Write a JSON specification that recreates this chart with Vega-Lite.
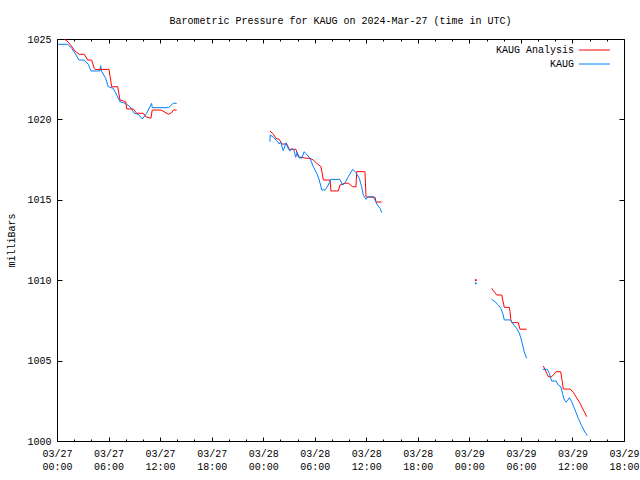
{
  "$schema": "https://vega.github.io/schema/vega-lite/v6.json",
  "width": 567,
  "height": 402,
  "autosize": "none",
  "padding": {"left": 57, "top": 39, "right": 16, "bottom": 39},
  "background": "white",
  "title": {"text": "Barometric Pressure for KAUG on 2024-Mar-27 (time in UTC)", "font": "Liberation Mono", "fontSize": 10, "fontWeight": "normal", "color": "black", "anchor": "middle", "offset": 8},
  "config": {
    "view": {"stroke": "black", "strokeWidth": 1},
    "font": "Liberation Mono",
    "axis": {"labelFont": "Liberation Mono", "labelFontSize": 10, "labelColor": "black", "tickColor": "black", "domainColor": "black", "grid": false, "titleFont": "Liberation Mono", "titleFontSize": 10, "titleFontWeight": "normal", "titleColor": "black"}
  },
  "data": {"values": [
    {"t": "2024-03-27T00:05Z", "mb": 1024.67, "series": "KAUG", "seg": "a"},
    {"t": "2024-03-27T01:15Z", "mb": 1024.67, "series": "KAUG", "seg": "a"},
    {"t": "2024-03-27T01:43Z", "mb": 1024.42, "series": "KAUG", "seg": "a"},
    {"t": "2024-03-27T02:06Z", "mb": 1024.11, "series": "KAUG", "seg": "a"},
    {"t": "2024-03-27T02:34Z", "mb": 1023.69, "series": "KAUG", "seg": "a"},
    {"t": "2024-03-27T03:11Z", "mb": 1023.69, "series": "KAUG", "seg": "a"},
    {"t": "2024-03-27T03:38Z", "mb": 1023.43, "series": "KAUG", "seg": "a"},
    {"t": "2024-03-27T03:58Z", "mb": 1023.01, "series": "KAUG", "seg": "a"},
    {"t": "2024-03-27T05:00Z", "mb": 1023.01, "series": "KAUG", "seg": "a"},
    {"t": "2024-03-27T05:05Z", "mb": 1023.34, "series": "KAUG", "seg": "a"},
    {"t": "2024-03-27T05:10Z", "mb": 1023.01, "series": "KAUG", "seg": "a"},
    {"t": "2024-03-27T05:40Z", "mb": 1022.56, "series": "KAUG", "seg": "a"},
    {"t": "2024-03-27T05:58Z", "mb": 1022.03, "series": "KAUG", "seg": "a"},
    {"t": "2024-03-27T06:33Z", "mb": 1021.93, "series": "KAUG", "seg": "a"},
    {"t": "2024-03-27T06:57Z", "mb": 1021.52, "series": "KAUG", "seg": "a"},
    {"t": "2024-03-27T07:20Z", "mb": 1021.10, "series": "KAUG", "seg": "a"},
    {"t": "2024-03-27T07:55Z", "mb": 1021.00, "series": "KAUG", "seg": "a"},
    {"t": "2024-03-27T08:30Z", "mb": 1020.79, "series": "KAUG", "seg": "a"},
    {"t": "2024-03-27T09:00Z", "mb": 1020.38, "series": "KAUG", "seg": "a"},
    {"t": "2024-03-27T09:28Z", "mb": 1020.32, "series": "KAUG", "seg": "a"},
    {"t": "2024-03-27T09:56Z", "mb": 1020.02, "series": "KAUG", "seg": "a"},
    {"t": "2024-03-27T10:26Z", "mb": 1020.38, "series": "KAUG", "seg": "a"},
    {"t": "2024-03-27T11:01Z", "mb": 1021.00, "series": "KAUG", "seg": "a"},
    {"t": "2024-03-27T11:05Z", "mb": 1020.73, "series": "KAUG", "seg": "a"},
    {"t": "2024-03-27T12:58Z", "mb": 1020.73, "series": "KAUG", "seg": "a"},
    {"t": "2024-03-27T13:32Z", "mb": 1021.00, "series": "KAUG", "seg": "a"},
    {"t": "2024-03-27T13:56Z", "mb": 1021.00, "series": "KAUG", "seg": "a"},

    {"t": "2024-03-27T00:50Z", "mb": 1025.00, "series": "KAUG Analysis", "seg": "a"},
    {"t": "2024-03-27T01:08Z", "mb": 1024.90, "series": "KAUG Analysis", "seg": "a"},
    {"t": "2024-03-27T01:31Z", "mb": 1024.67, "series": "KAUG Analysis", "seg": "a"},
    {"t": "2024-03-27T02:06Z", "mb": 1024.25, "series": "KAUG Analysis", "seg": "a"},
    {"t": "2024-03-27T02:34Z", "mb": 1024.05, "series": "KAUG Analysis", "seg": "a"},
    {"t": "2024-03-27T03:11Z", "mb": 1024.05, "series": "KAUG Analysis", "seg": "a"},
    {"t": "2024-03-27T03:34Z", "mb": 1023.69, "series": "KAUG Analysis", "seg": "a"},
    {"t": "2024-03-27T04:02Z", "mb": 1023.69, "series": "KAUG Analysis", "seg": "a"},
    {"t": "2024-03-27T04:20Z", "mb": 1023.18, "series": "KAUG Analysis", "seg": "a"},
    {"t": "2024-03-27T04:25Z", "mb": 1023.11, "series": "KAUG Analysis", "seg": "a"},
    {"t": "2024-03-27T06:03Z", "mb": 1023.11, "series": "KAUG Analysis", "seg": "a"},
    {"t": "2024-03-27T06:22Z", "mb": 1022.03, "series": "KAUG Analysis", "seg": "a"},
    {"t": "2024-03-27T07:04Z", "mb": 1022.03, "series": "KAUG Analysis", "seg": "a"},
    {"t": "2024-03-27T07:20Z", "mb": 1021.21, "series": "KAUG Analysis", "seg": "a"},
    {"t": "2024-03-27T08:00Z", "mb": 1021.10, "series": "KAUG Analysis", "seg": "a"},
    {"t": "2024-03-27T08:07Z", "mb": 1020.65, "series": "KAUG Analysis", "seg": "a"},
    {"t": "2024-03-27T08:53Z", "mb": 1020.65, "series": "KAUG Analysis", "seg": "a"},
    {"t": "2024-03-27T09:17Z", "mb": 1020.38, "series": "KAUG Analysis", "seg": "a"},
    {"t": "2024-03-27T10:03Z", "mb": 1020.38, "series": "KAUG Analysis", "seg": "a"},
    {"t": "2024-03-27T10:19Z", "mb": 1020.17, "series": "KAUG Analysis", "seg": "a"},
    {"t": "2024-03-27T10:56Z", "mb": 1020.07, "series": "KAUG Analysis", "seg": "a"},
    {"t": "2024-03-27T11:05Z", "mb": 1020.58, "series": "KAUG Analysis", "seg": "a"},
    {"t": "2024-03-27T12:07Z", "mb": 1020.58, "series": "KAUG Analysis", "seg": "a"},
    {"t": "2024-03-27T12:58Z", "mb": 1020.32, "series": "KAUG Analysis", "seg": "a"},
    {"t": "2024-03-27T13:21Z", "mb": 1020.42, "series": "KAUG Analysis", "seg": "a"},
    {"t": "2024-03-27T13:32Z", "mb": 1020.58, "series": "KAUG Analysis", "seg": "a"},
    {"t": "2024-03-27T13:56Z", "mb": 1020.58, "series": "KAUG Analysis", "seg": "a"},

    {"t": "2024-03-28T00:47Z", "mb": 1019.28, "series": "KAUG Analysis", "seg": "b"},
    {"t": "2024-03-28T01:11Z", "mb": 1019.09, "series": "KAUG Analysis", "seg": "b"},
    {"t": "2024-03-28T01:29Z", "mb": 1018.82, "series": "KAUG Analysis", "seg": "b"},
    {"t": "2024-03-28T01:53Z", "mb": 1018.76, "series": "KAUG Analysis", "seg": "b"},
    {"t": "2024-03-28T02:09Z", "mb": 1018.47, "series": "KAUG Analysis", "seg": "b"},
    {"t": "2024-03-28T02:44Z", "mb": 1018.47, "series": "KAUG Analysis", "seg": "b"},
    {"t": "2024-03-28T03:02Z", "mb": 1018.14, "series": "KAUG Analysis", "seg": "b"},
    {"t": "2024-03-28T03:49Z", "mb": 1018.14, "series": "KAUG Analysis", "seg": "b"},
    {"t": "2024-03-28T04:05Z", "mb": 1017.68, "series": "KAUG Analysis", "seg": "b"},
    {"t": "2024-03-28T05:04Z", "mb": 1017.58, "series": "KAUG Analysis", "seg": "b"},
    {"t": "2024-03-28T05:27Z", "mb": 1017.58, "series": "KAUG Analysis", "seg": "b"},
    {"t": "2024-03-28T05:50Z", "mb": 1017.48, "series": "KAUG Analysis", "seg": "b"},
    {"t": "2024-03-28T06:18Z", "mb": 1017.23, "series": "KAUG Analysis", "seg": "b"},
    {"t": "2024-03-28T06:44Z", "mb": 1017.06, "series": "KAUG Analysis", "seg": "b"},
    {"t": "2024-03-28T07:00Z", "mb": 1016.23, "series": "KAUG Analysis", "seg": "b"},
    {"t": "2024-03-28T07:47Z", "mb": 1016.23, "series": "KAUG Analysis", "seg": "b"},
    {"t": "2024-03-28T07:53Z", "mb": 1015.55, "series": "KAUG Analysis", "seg": "b"},
    {"t": "2024-03-28T08:45Z", "mb": 1015.55, "series": "KAUG Analysis", "seg": "b"},
    {"t": "2024-03-28T08:56Z", "mb": 1015.92, "series": "KAUG Analysis", "seg": "b"},
    {"t": "2024-03-28T09:31Z", "mb": 1016.03, "series": "KAUG Analysis", "seg": "b"},
    {"t": "2024-03-28T09:55Z", "mb": 1016.03, "series": "KAUG Analysis", "seg": "b"},
    {"t": "2024-03-28T10:25Z", "mb": 1015.81, "series": "KAUG Analysis", "seg": "b"},
    {"t": "2024-03-28T10:48Z", "mb": 1015.81, "series": "KAUG Analysis", "seg": "b"},
    {"t": "2024-03-28T10:53Z", "mb": 1016.75, "series": "KAUG Analysis", "seg": "b"},
    {"t": "2024-03-28T11:51Z", "mb": 1016.75, "series": "KAUG Analysis", "seg": "b"},
    {"t": "2024-03-28T11:58Z", "mb": 1015.19, "series": "KAUG Analysis", "seg": "b"},
    {"t": "2024-03-28T12:26Z", "mb": 1015.16, "series": "KAUG Analysis", "seg": "b"},
    {"t": "2024-03-28T13:01Z", "mb": 1015.16, "series": "KAUG Analysis", "seg": "b"},
    {"t": "2024-03-28T13:08Z", "mb": 1014.86, "series": "KAUG Analysis", "seg": "b"},
    {"t": "2024-03-28T13:48Z", "mb": 1014.86, "series": "KAUG Analysis", "seg": "b"},

    {"t": "2024-03-28T00:47Z", "mb": 1018.61, "series": "KAUG", "seg": "b"},
    {"t": "2024-03-28T00:49Z", "mb": 1019.03, "series": "KAUG", "seg": "b"},
    {"t": "2024-03-28T01:11Z", "mb": 1018.89, "series": "KAUG", "seg": "b"},
    {"t": "2024-03-28T01:34Z", "mb": 1018.68, "series": "KAUG", "seg": "b"},
    {"t": "2024-03-28T01:53Z", "mb": 1018.47, "series": "KAUG", "seg": "b"},
    {"t": "2024-03-28T02:02Z", "mb": 1018.61, "series": "KAUG", "seg": "b"},
    {"t": "2024-03-28T02:20Z", "mb": 1018.05, "series": "KAUG", "seg": "b"},
    {"t": "2024-03-28T02:40Z", "mb": 1018.55, "series": "KAUG", "seg": "b"},
    {"t": "2024-03-28T02:53Z", "mb": 1018.22, "series": "KAUG", "seg": "b"},
    {"t": "2024-03-28T03:07Z", "mb": 1018.03, "series": "KAUG", "seg": "b"},
    {"t": "2024-03-28T03:21Z", "mb": 1018.20, "series": "KAUG", "seg": "b"},
    {"t": "2024-03-28T03:35Z", "mb": 1018.10, "series": "KAUG", "seg": "b"},
    {"t": "2024-03-28T03:47Z", "mb": 1017.64, "series": "KAUG", "seg": "b"},
    {"t": "2024-03-28T03:58Z", "mb": 1017.95, "series": "KAUG", "seg": "b"},
    {"t": "2024-03-28T04:12Z", "mb": 1017.60, "series": "KAUG", "seg": "b"},
    {"t": "2024-03-28T04:31Z", "mb": 1017.60, "series": "KAUG", "seg": "b"},
    {"t": "2024-03-28T04:45Z", "mb": 1017.99, "series": "KAUG", "seg": "b"},
    {"t": "2024-03-28T05:04Z", "mb": 1017.83, "series": "KAUG", "seg": "b"},
    {"t": "2024-03-28T05:27Z", "mb": 1017.58, "series": "KAUG", "seg": "b"},
    {"t": "2024-03-28T05:50Z", "mb": 1017.06, "series": "KAUG", "seg": "b"},
    {"t": "2024-03-28T06:14Z", "mb": 1016.65, "series": "KAUG", "seg": "b"},
    {"t": "2024-03-28T06:32Z", "mb": 1016.23, "series": "KAUG", "seg": "b"},
    {"t": "2024-03-28T06:49Z", "mb": 1015.61, "series": "KAUG", "seg": "b"},
    {"t": "2024-03-28T07:12Z", "mb": 1015.61, "series": "KAUG", "seg": "b"},
    {"t": "2024-03-28T07:35Z", "mb": 1015.92, "series": "KAUG", "seg": "b"},
    {"t": "2024-03-28T07:52Z", "mb": 1016.27, "series": "KAUG", "seg": "b"},
    {"t": "2024-03-28T08:56Z", "mb": 1016.27, "series": "KAUG", "seg": "b"},
    {"t": "2024-03-28T09:15Z", "mb": 1015.92, "series": "KAUG", "seg": "b"},
    {"t": "2024-03-28T09:31Z", "mb": 1016.06, "series": "KAUG", "seg": "b"},
    {"t": "2024-03-28T09:55Z", "mb": 1016.44, "series": "KAUG", "seg": "b"},
    {"t": "2024-03-28T10:25Z", "mb": 1016.90, "series": "KAUG", "seg": "b"},
    {"t": "2024-03-28T10:48Z", "mb": 1016.69, "series": "KAUG", "seg": "b"},
    {"t": "2024-03-28T11:11Z", "mb": 1016.34, "series": "KAUG", "seg": "b"},
    {"t": "2024-03-28T11:28Z", "mb": 1015.81, "series": "KAUG", "seg": "b"},
    {"t": "2024-03-28T11:39Z", "mb": 1015.30, "series": "KAUG", "seg": "b"},
    {"t": "2024-03-28T11:58Z", "mb": 1015.03, "series": "KAUG", "seg": "b"},
    {"t": "2024-03-28T12:14Z", "mb": 1015.19, "series": "KAUG", "seg": "b"},
    {"t": "2024-03-28T12:49Z", "mb": 1015.19, "series": "KAUG", "seg": "b"},
    {"t": "2024-03-28T13:01Z", "mb": 1014.99, "series": "KAUG", "seg": "b"},
    {"t": "2024-03-28T13:17Z", "mb": 1014.68, "series": "KAUG", "seg": "b"},
    {"t": "2024-03-28T13:36Z", "mb": 1014.47, "series": "KAUG", "seg": "b"},
    {"t": "2024-03-28T13:48Z", "mb": 1014.20, "series": "KAUG", "seg": "b"},

    {"t": "2024-03-29T00:44Z", "mb": 1010.00, "series": "KAUG Analysis", "seg": "dot"},
    {"t": "2024-03-29T00:44Z", "mb": 1009.80, "series": "KAUG", "seg": "dot"},

    {"t": "2024-03-29T02:36Z", "mb": 1009.50, "series": "KAUG Analysis", "seg": "c"},
    {"t": "2024-03-29T02:47Z", "mb": 1009.35, "series": "KAUG Analysis", "seg": "c"},
    {"t": "2024-03-29T02:59Z", "mb": 1009.22, "series": "KAUG Analysis", "seg": "c"},
    {"t": "2024-03-29T03:11Z", "mb": 1009.08, "series": "KAUG Analysis", "seg": "c"},
    {"t": "2024-03-29T03:46Z", "mb": 1009.08, "series": "KAUG Analysis", "seg": "c"},
    {"t": "2024-03-29T03:53Z", "mb": 1008.77, "series": "KAUG Analysis", "seg": "c"},
    {"t": "2024-03-29T04:04Z", "mb": 1008.31, "series": "KAUG Analysis", "seg": "c"},
    {"t": "2024-03-29T04:39Z", "mb": 1008.31, "series": "KAUG Analysis", "seg": "c"},
    {"t": "2024-03-29T04:44Z", "mb": 1008.04, "series": "KAUG Analysis", "seg": "c"},
    {"t": "2024-03-29T04:49Z", "mb": 1007.57, "series": "KAUG Analysis", "seg": "c"},
    {"t": "2024-03-29T04:56Z", "mb": 1007.36, "series": "KAUG Analysis", "seg": "c"},
    {"t": "2024-03-29T05:42Z", "mb": 1007.36, "series": "KAUG Analysis", "seg": "c"},
    {"t": "2024-03-29T05:53Z", "mb": 1006.95, "series": "KAUG Analysis", "seg": "c"},
    {"t": "2024-03-29T06:40Z", "mb": 1006.95, "series": "KAUG Analysis", "seg": "c"},

    {"t": "2024-03-29T02:36Z", "mb": 1008.81, "series": "KAUG", "seg": "c"},
    {"t": "2024-03-29T02:59Z", "mb": 1008.66, "series": "KAUG", "seg": "c"},
    {"t": "2024-03-29T03:22Z", "mb": 1008.46, "series": "KAUG", "seg": "c"},
    {"t": "2024-03-29T03:39Z", "mb": 1008.25, "series": "KAUG", "seg": "c"},
    {"t": "2024-03-29T03:53Z", "mb": 1007.94, "series": "KAUG", "seg": "c"},
    {"t": "2024-03-29T04:04Z", "mb": 1007.53, "series": "KAUG", "seg": "c"},
    {"t": "2024-03-29T04:44Z", "mb": 1007.53, "series": "KAUG", "seg": "c"},
    {"t": "2024-03-29T04:56Z", "mb": 1007.42, "series": "KAUG", "seg": "c"},
    {"t": "2024-03-29T05:11Z", "mb": 1007.21, "series": "KAUG", "seg": "c"},
    {"t": "2024-03-29T05:30Z", "mb": 1007.01, "series": "KAUG", "seg": "c"},
    {"t": "2024-03-29T05:49Z", "mb": 1006.70, "series": "KAUG", "seg": "c"},
    {"t": "2024-03-29T06:00Z", "mb": 1006.39, "series": "KAUG", "seg": "c"},
    {"t": "2024-03-29T06:12Z", "mb": 1005.97, "series": "KAUG", "seg": "c"},
    {"t": "2024-03-29T06:23Z", "mb": 1005.55, "series": "KAUG", "seg": "c"},
    {"t": "2024-03-29T06:40Z", "mb": 1005.14, "series": "KAUG", "seg": "c"},

    {"t": "2024-03-29T08:37Z", "mb": 1004.66, "series": "KAUG Analysis", "seg": "d"},
    {"t": "2024-03-29T08:53Z", "mb": 1004.35, "series": "KAUG Analysis", "seg": "d"},
    {"t": "2024-03-29T09:11Z", "mb": 1004.00, "series": "KAUG Analysis", "seg": "d"},
    {"t": "2024-03-29T09:35Z", "mb": 1004.00, "series": "KAUG Analysis", "seg": "d"},
    {"t": "2024-03-29T09:51Z", "mb": 1004.15, "series": "KAUG Analysis", "seg": "d"},
    {"t": "2024-03-29T10:05Z", "mb": 1004.31, "series": "KAUG Analysis", "seg": "d"},
    {"t": "2024-03-29T10:38Z", "mb": 1004.31, "series": "KAUG Analysis", "seg": "d"},
    {"t": "2024-03-29T10:49Z", "mb": 1003.69, "series": "KAUG Analysis", "seg": "d"},
    {"t": "2024-03-29T10:56Z", "mb": 1003.23, "series": "KAUG Analysis", "seg": "d"},
    {"t": "2024-03-29T11:43Z", "mb": 1003.23, "series": "KAUG Analysis", "seg": "d"},
    {"t": "2024-03-29T12:06Z", "mb": 1003.03, "series": "KAUG Analysis", "seg": "d"},
    {"t": "2024-03-29T12:29Z", "mb": 1002.69, "series": "KAUG Analysis", "seg": "d"},
    {"t": "2024-03-29T12:53Z", "mb": 1002.35, "series": "KAUG Analysis", "seg": "d"},
    {"t": "2024-03-29T13:16Z", "mb": 1001.93, "series": "KAUG Analysis", "seg": "d"},
    {"t": "2024-03-29T13:40Z", "mb": 1001.51, "series": "KAUG Analysis", "seg": "d"},

    {"t": "2024-03-29T08:32Z", "mb": 1004.46, "series": "KAUG", "seg": "d"},
    {"t": "2024-03-29T09:04Z", "mb": 1004.46, "series": "KAUG", "seg": "d"},
    {"t": "2024-03-29T09:18Z", "mb": 1004.21, "series": "KAUG", "seg": "d"},
    {"t": "2024-03-29T09:35Z", "mb": 1003.73, "series": "KAUG", "seg": "d"},
    {"t": "2024-03-29T10:05Z", "mb": 1003.73, "series": "KAUG", "seg": "d"},
    {"t": "2024-03-29T10:21Z", "mb": 1003.48, "series": "KAUG", "seg": "d"},
    {"t": "2024-03-29T10:38Z", "mb": 1003.38, "series": "KAUG", "seg": "d"},
    {"t": "2024-03-29T10:52Z", "mb": 1002.90, "series": "KAUG", "seg": "d"},
    {"t": "2024-03-29T11:01Z", "mb": 1002.61, "series": "KAUG", "seg": "d"},
    {"t": "2024-03-29T11:15Z", "mb": 1002.41, "series": "KAUG", "seg": "d"},
    {"t": "2024-03-29T11:24Z", "mb": 1002.49, "series": "KAUG", "seg": "d"},
    {"t": "2024-03-29T11:38Z", "mb": 1002.69, "series": "KAUG", "seg": "d"},
    {"t": "2024-03-29T11:55Z", "mb": 1002.44, "series": "KAUG", "seg": "d"},
    {"t": "2024-03-29T12:18Z", "mb": 1001.93, "series": "KAUG", "seg": "d"},
    {"t": "2024-03-29T12:41Z", "mb": 1001.41, "series": "KAUG", "seg": "d"},
    {"t": "2024-03-29T13:04Z", "mb": 1000.95, "series": "KAUG", "seg": "d"},
    {"t": "2024-03-29T13:28Z", "mb": 1000.54, "series": "KAUG", "seg": "d"},
    {"t": "2024-03-29T13:44Z", "mb": 1000.33, "series": "KAUG", "seg": "d"}
  ]},
  "resolve": {"axis": {"x": "independent", "y": "independent"}},
  "layer": [
    {
      "transform": [{"filter": "datum.seg != 'dot'"}],
      "mark": {"type": "line", "strokeWidth": 1, "clip": true},
      "encoding": {
        "x": {"field": "t", "type": "temporal",
          "scale": {"type": "utc", "nice": false, "domain": [1711497600000, 1711735200000]},
          "axis": {"orient": "bottom", "title": null, "domain": false, "offset": -4, "tickSize": 4,
            "values": [1711497600000, 1711519200000, 1711540800000, 1711562400000, 1711584000000, 1711605600000, 1711627200000, 1711648800000, 1711670400000, 1711692000000, 1711713600000, 1711735200000],
            "labelOverlap": false, "labelFlush": false, "labelBound": false,
            "labelExpr": "[utcFormat(datum.value, '%m/%d'), utcFormat(datum.value, '%H:%M')]",
            "labelPadding": 7, "labelLineHeight": 13, "labelAlign": "center"}},
        "y": {"field": "mb", "type": "quantitative",
          "scale": {"domain": [1000, 1025], "nice": false, "zero": false},
          "axis": {"orient": "left", "title": "milliBars", "domain": false, "offset": -5, "tickSize": 5, "values": [1000, 1005, 1010, 1015, 1020, 1025], "format": "d", "labelPadding": 6, "titlePadding": 10}},
        "color": {"field": "series", "type": "nominal",
          "scale": {"domain": ["KAUG Analysis", "KAUG"], "range": ["#ff0000", "#0080ff"]},
          "legend": {"title": null, "orient": "top-right", "direction": "vertical", "offset": 6, "padding": 0,
            "symbolType": "M-4.86,0H4M5.7,0", "symbolSize": 49, "symbolStrokeWidth": 1,
            "labelAlign": "right", "labelOffset": -27, "labelFont": "Liberation Mono", "labelFontSize": 10, "labelColor": "black", "rowPadding": 4}},
        "detail": {"field": "seg"}
      }
    },
    {
      "transform": [{"filter": "datum.seg == 'dot'"}],
      "mark": {"type": "square", "size": 2, "opacity": 1},
      "encoding": {
        "x": {"field": "t", "type": "temporal",
          "axis": {"orient": "top", "title": null, "labels": false, "domain": false, "offset": -4, "tickSize": 4,
            "values": [1711497600000, 1711519200000, 1711540800000, 1711562400000, 1711584000000, 1711605600000, 1711627200000, 1711648800000, 1711670400000, 1711692000000, 1711713600000, 1711735200000]}},
        "y": {"field": "mb", "type": "quantitative",
          "axis": {"orient": "right", "title": null, "labels": false, "domain": false, "offset": -5, "tickSize": 5, "values": [1000, 1005, 1010, 1015, 1020, 1025]}},
        "color": {"field": "series", "type": "nominal"}
      }
    },
    {
      "transform": [{"filter": "datum.seg == 'dot'"}],
      "mark": {"type": "square", "size": 2, "opacity": 1},
      "encoding": {
        "x": {"field": "t", "type": "temporal",
          "axis": {"orient": "bottom", "title": null, "labels": false, "domain": false, "offset": -2, "tickSize": 2,
            "values": [1711504800000, 1711512000000, 1711526400000, 1711533600000, 1711548000000, 1711555200000, 1711569600000, 1711576800000, 1711591200000, 1711598400000, 1711612800000, 1711620000000, 1711634400000, 1711641600000, 1711656000000, 1711663200000, 1711677600000, 1711684800000, 1711699200000, 1711706400000, 1711720800000, 1711728000000]}},
        "y": {"field": "mb", "type": "quantitative", "axis": null},
        "color": {"field": "series", "type": "nominal"}
      }
    },
    {
      "transform": [{"filter": "datum.seg == 'dot'"}],
      "mark": {"type": "square", "size": 2, "opacity": 1},
      "encoding": {
        "x": {"field": "t", "type": "temporal",
          "axis": {"orient": "top", "title": null, "labels": false, "domain": false, "offset": -2, "tickSize": 2,
            "values": [1711504800000, 1711512000000, 1711526400000, 1711533600000, 1711548000000, 1711555200000, 1711569600000, 1711576800000, 1711591200000, 1711598400000, 1711612800000, 1711620000000, 1711634400000, 1711641600000, 1711656000000, 1711663200000, 1711677600000, 1711684800000, 1711699200000, 1711706400000, 1711720800000, 1711728000000]}},
        "y": {"field": "mb", "type": "quantitative", "axis": null},
        "color": {"field": "series", "type": "nominal"}
      }
    }
  ]
}
